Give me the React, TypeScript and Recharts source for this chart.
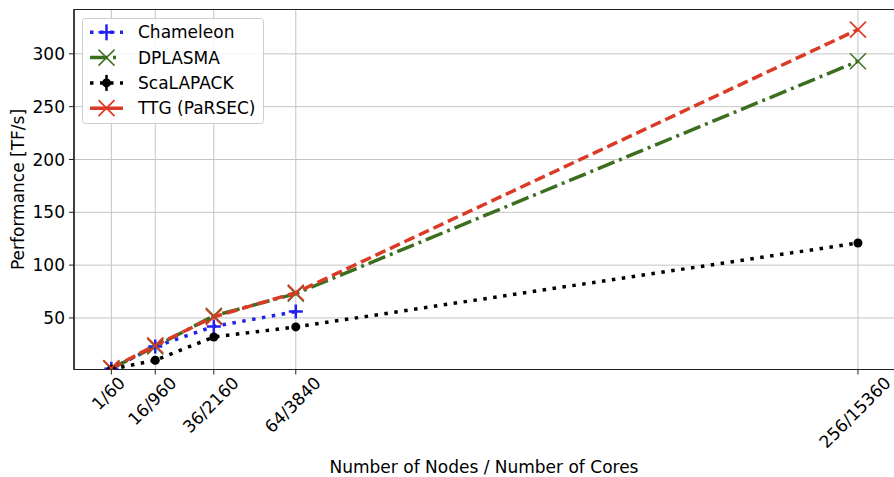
import React from 'react';
import { LineChart, Line, XAxis, YAxis, CartesianGrid, Legend, ReferenceArea } from 'recharts';

// ---- data ----
const nodes = [1, 16, 36, 64, 256];
const xTickLabels = ['1/60', '16/960', '36/2160', '64/3840', '256/15360'];
const chameleon: (number | null)[] = [2, 23, 42, 56, null];
const dplasma = [2, 23, 52, 73, 293];
const scalapack = [1.5, 10, 32, 41.5, 121];
const ttg = [2.5, 24, 51, 74, 323];
const yTicks = [50, 100, 150, 200, 250, 300];
const seriesNames = ['Chameleon', 'DPLASMA', 'ScaLAPACK', 'TTG (PaRSEC)'];

const data = nodes.map((n, i) => ({
  n,
  chameleon: chameleon[i],
  dplasma: dplasma[i],
  scalapack: scalapack[i],
  ttg: ttg[i],
}));

// ---- style ----
const FONT = '"DejaVu Sans", sans-serif';
const FS = 17;
const BLUE = '#2222ee';
const GREEN = '#3b6e1f';
const BLACK = '#000000';
const RED = '#db3b26';
const X_DOMAIN: [number, number] = [-11.75, 268.75];
const Y_DOMAIN: [number, number] = [1.2, 342];

const DASH_DOT = '3.5 6.5';
const DASH_DASHED = '11 5';
const DASH_DASHDOT = '18 5 3 5';

function textWidth(s: string) {
  let w = 0;
  for (const c of s) w += c === '/' ? 0.337 : 0.636;
  return w * FS;
}

const XTick = (props: any) => {
  const { x, y, payload } = props;
  const idx = nodes.indexOf(payload.value);
  const label = idx >= 0 ? xTickLabels[idx] : String(payload.value);
  const w = textWidth(label);
  const h = FS * 0.8;
  const half = (w + h) / (2 * Math.SQRT2);
  const cx = x - 3;
  const cy = y + half - 1.5;
  return (
    <text
      x={cx}
      y={cy}
      textAnchor="middle"
      dominantBaseline="central"
      transform={`rotate(-45 ${cx} ${cy})`}
      fontFamily={FONT}
      fontSize={FS}
      fill="#000"
    >
      {label}
    </text>
  );
};

const XMark = ({ cx, cy, color, size, sw }: any) => (
  <g>
    <line x1={cx - size} y1={cy - size} x2={cx + size} y2={cy + size} stroke={color} strokeWidth={sw} />
    <line x1={cx - size} y1={cy + size} x2={cx + size} y2={cy - size} stroke={color} strokeWidth={sw} />
  </g>
);
const PlusMark = ({ cx, cy, color, size, sw }: any) => (
  <g>
    <line x1={cx - size} y1={cy} x2={cx + size} y2={cy} stroke={color} strokeWidth={sw} />
    <line x1={cx} y1={cy - size} x2={cx} y2={cy + size} stroke={color} strokeWidth={sw} />
  </g>
);
const CircleMark = ({ cx, cy, color, r, bar }: any) => (
  <g>
    <line x1={cx} y1={cy - bar} x2={cx} y2={cy + bar} stroke={color} strokeWidth={2.5} />
    <circle cx={cx} cy={cy} r={r} fill={color} />
  </g>
);

const mkDot = (kind: string, legend = false) => (p: any) => {
  const { cx, cy, value, index } = p;
  const key = `${kind}-${index}`;
  if (cx == null || cy == null || value == null || (Array.isArray(value) && value[1] == null)) return <g key={key} />;
  if (kind === 'cham') return <PlusMark key={key} cx={cx} cy={cy} color={BLUE} size={legend ? 8 : 7} sw={2.5} />;
  if (kind === 'dpl') return <XMark key={key} cx={cx} cy={cy} color={GREEN} size={8} sw={1.5} />;
  if (kind === 'sca') return <CircleMark key={key} cx={cx} cy={cy} color={BLACK} r={4.5} bar={legend ? 8 : 4} />;
  return <XMark key={key} cx={cx} cy={cy} color={RED} size={8} sw={1.7} />;
};

const LegendBox = () => {
  const rows = [
    { name: seriesNames[0], color: BLUE, dash: DASH_DOT, mark: 'cham' },
    { name: seriesNames[1], color: GREEN, dash: DASH_DASHDOT, mark: 'dpl' },
    { name: seriesNames[2], color: BLACK, dash: DASH_DOT, mark: 'sca' },
    { name: seriesNames[3], color: RED, dash: DASH_DASHED, mark: 'ttg' },
  ];
  return (
    <svg width={183} height={107} style={{ display: 'block' }}>
      <rect x={0.5} y={0.5} width={181} height={105} rx={3} fill="#fff" fillOpacity={0.85} stroke="#cccccc" />
      {rows.map((r, i) => {
        const y = 14.3 + i * 25.3;
        return (
          <g key={r.name}>
            <line
              x1={8}
              y1={y}
              x2={41}
              y2={y}
              stroke={r.color}
              strokeWidth={3.5}
              strokeDasharray={r.mark === 'ttg' ? undefined : r.mark === 'dpl' ? '18 5 3 9' : r.dash}
            />
            {mkDot(r.mark, true)({ cx: 24.5, cy: y, value: 1, index: i })}
            <text x={56} y={y} dominantBaseline="central" fontFamily={FONT} fontSize={FS} fill="#000">
              {r.name}
            </text>
          </g>
        );
      })}
    </svg>
  );
};

const YLabel = () => (
  <text
    x={18}
    y={189.5}
    transform="rotate(-90 18 189.5)"
    textAnchor="middle"
    dominantBaseline="central"
    fontFamily={FONT}
    fontSize={FS}
    fill="#000"
  >
    Performance [TF/s]
  </text>
);

const XLabel = () => (
  <text x={484} y={473} textAnchor="middle" fontFamily={FONT} fontSize={FS} fill="#000">
    Number of Nodes / Number of Cores
  </text>
);

export default function App() {
  return (
    <div style={{ position: 'absolute', left: 0, top: 0, width: 894, height: 477, overflow: 'hidden', background: '#fff' }}>
      <LineChart
        width={896}
        height={477}
        data={data}
        margin={{ top: 9.5, right: 0.7, bottom: 0, left: 0 }}
      >
        <CartesianGrid stroke="#c4c4c4" strokeWidth={1} />
        <XAxis
          dataKey="n"
          type="number"
          domain={X_DOMAIN}
          ticks={nodes}
          allowDataOverflow
          height={107.5}
          tickSize={5}
          tickMargin={2}
          tick={<XTick />}
          interval={0}
          axisLine={{ stroke: '#222', strokeWidth: 1.2 }}
          tickLine={{ stroke: '#222' }}
          label={{ content: () => <XLabel /> }}
        />
        <YAxis
          type="number"
          domain={Y_DOMAIN}
          ticks={yTicks}
          allowDataOverflow
          width={74}
          tickSize={5}
          tickMargin={4}
          tick={{ fontFamily: FONT, fontSize: FS, fill: '#000' }}
          axisLine={{ stroke: '#222', strokeWidth: 1.2 }}
          tickLine={{ stroke: '#222' }}
          label={{ content: () => <YLabel /> }}
        />
        <ReferenceArea
          x1={X_DOMAIN[0]}
          x2={X_DOMAIN[1]}
          y1={Y_DOMAIN[0]}
          y2={Y_DOMAIN[1]}
          fill="none"
          stroke="#222"
          strokeWidth={1.2}
          ifOverflow="visible"
        />
        <Line
          dataKey="chameleon"
          stroke={BLUE}
          strokeWidth={3.5}
          strokeDasharray={DASH_DOT}
          dot={mkDot('cham')}
          activeDot={false}
          isAnimationActive={false}
          connectNulls={false}
        />
        <Line
          dataKey="dplasma"
          stroke={GREEN}
          strokeWidth={3.5}
          strokeDasharray={DASH_DASHDOT}
          dot={mkDot('dpl')}
          activeDot={false}
          isAnimationActive={false}
        />
        <Line
          dataKey="scalapack"
          stroke={BLACK}
          strokeWidth={3.5}
          strokeDasharray={DASH_DOT}
          dot={mkDot('sca')}
          activeDot={false}
          isAnimationActive={false}
        />
        <Line
          dataKey="ttg"
          stroke={RED}
          strokeWidth={3.5}
          strokeDasharray={DASH_DASHED}
          dot={mkDot('ttg')}
          activeDot={false}
          isAnimationActive={false}
        />
        <Legend
          layout="vertical"
          align="center"
          verticalAlign="middle"
          wrapperStyle={{ left: 82, top: 18, width: 183, height: 107 }}
          content={() => <LegendBox />}
        />
      </LineChart>
    </div>
  );
}
